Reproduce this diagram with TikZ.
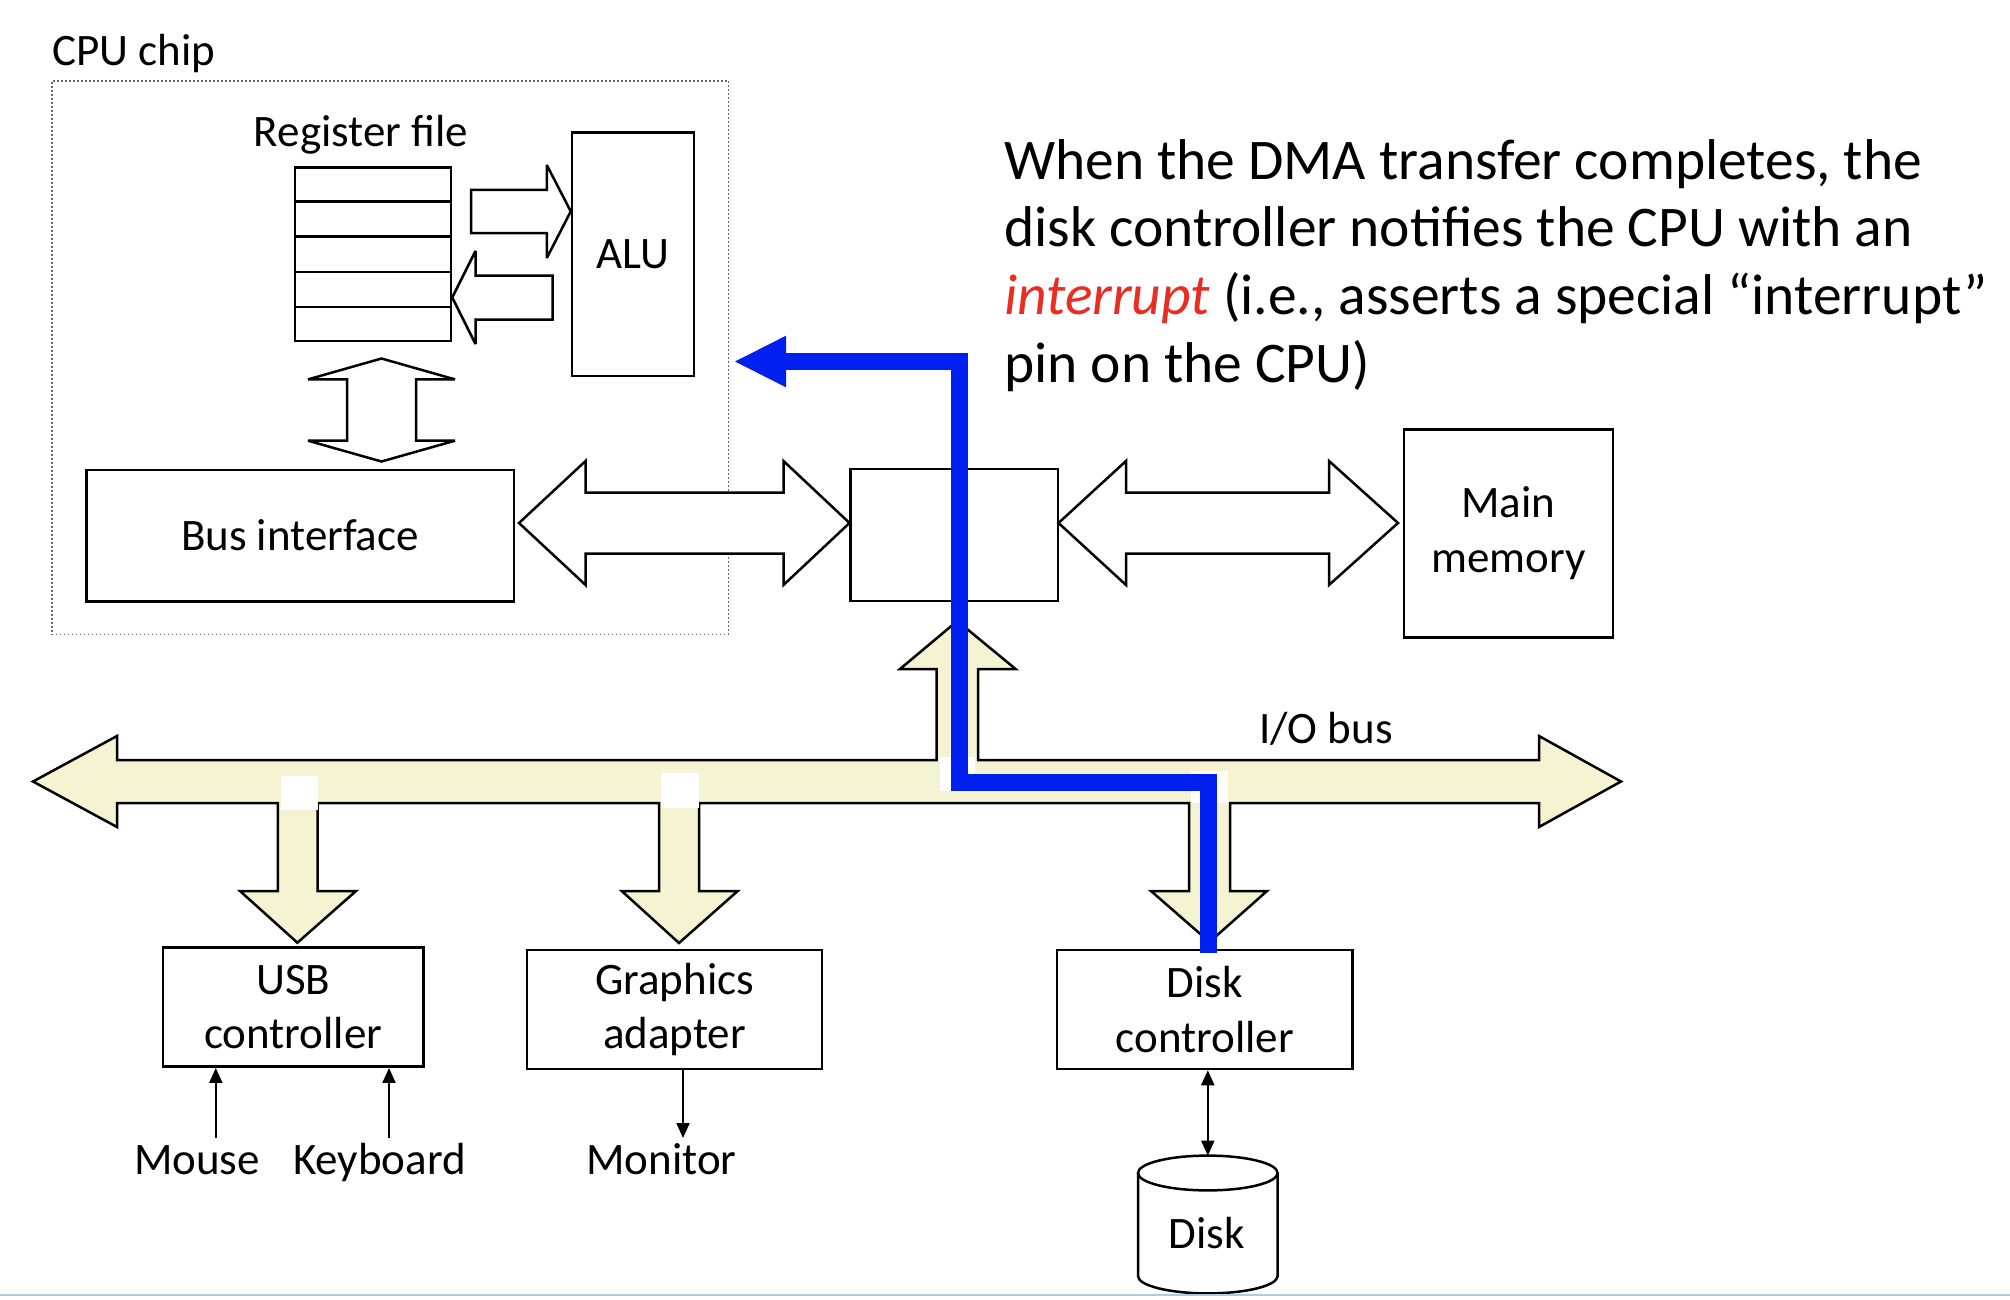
\documentclass[tikz,border=0pt]{standalone}
\usepackage{fontspec}
\setmainfont{Carlito}
\usetikzlibrary{arrows.meta,calc}
\definecolor{busfill}{RGB}{246,243,210}
\definecolor{dmablue}{RGB}{0,32,240}
\definecolor{intred}{RGB}{233,45,35}
\definecolor{rulecol}{RGB}{180,199,220}
\newcommand\lblfont{\fontsize{45}{55}\selectfont}
\newcommand\parfont{\fontsize{57.5}{68}\selectfont}
\begin{document}
\begin{tikzpicture}[x=1pt,y=-1pt,line join=miter,miter limit=4,
  box/.style={draw, line width=2.5pt, inner sep=0pt, align=center, font=\lblfont},
  lbl/.style={inner sep=0pt, font=\lblfont},
  ptext/.style={inner sep=0pt, font=\parfont, anchor=base west},
  blockarrow/.style={draw, line width=2.5pt, fill=white},
  thinarr/.style={line width=2pt, -{Triangle[length=15pt,width=13pt]}},
  dblarr/.style={line width=2pt, {Triangle[length=15pt,width=13pt]}-{Triangle[length=15pt,width=13pt]}}]
\useasboundingbox (0,0) rectangle (2010,1300);
\fill[white] (0,0) rectangle (2010,1300);

% CPU chip
\node[draw=black!60, line width=1.5pt, dash pattern=on 1.5pt off 2.5pt, minimum width=676.6pt, minimum height=553.5pt, inner sep=0pt] (cpu) at (390.2,357.55) {};
\node[lbl, anchor=base west] (cpulbl) at (51.9,65.5) {CPU chip};

% Register file and ALU
\node[lbl, anchor=base] (reglbl) at (361,147) {Register file};
\node[box, minimum width=156pt, minimum height=173.5pt] (reg) at (373,254.3) {};
\foreach \k in {1,...,4}
  \draw[line width=2.5pt] ($(reg.north west)!\k/5!(reg.south west)$) -- ($(reg.north east)!\k/5!(reg.south east)$);
\node[box, minimum width=122pt, minimum height=243.3pt] (alu) at (633,254.4) {ALU};

% reg -> ALU
\draw[blockarrow] (471,190) -- (546.8,190) -- (546.8,165) -- (alu.west |- 0,211.4) -- (546.8,258) -- (546.8,233) -- (471,233) -- cycle;
% ALU -> reg
\draw[blockarrow] (552.6,275.7) -- (475.5,275.7) -- (475.5,251) -- (reg.east |- 0,297.5) -- (475.5,344) -- (475.5,319.7) -- (552.6,319.7) -- cycle;

% Bus interface
\node[box, minimum width=427.5pt, minimum height=131.5pt] (bi) at (300,535.5) {Bus interface};
% reg <-> bus interface
\draw[blockarrow] (381.5,358.5) -- (455,379.4) -- (416,379.4) -- (416,440.7) -- (455,440.7) -- (381.5,461.5) -- (308,440.7) -- (347,440.7) -- (347,379.4) -- (308,379.4) -- cycle;

% Bridge and main memory
\node[box, minimum width=207.6pt, minimum height=132pt] (bridge) at (954.2,535) {};
\node[box, minimum width=209pt, minimum height=208.3pt] (mem) at (1508.5,533.5) {Main\\memory};

% bus interface <-> bridge
\draw[blockarrow] (519,523) -- (585.6,461) -- (585.6,492.5) -- (783.5,492.5) -- (783.5,461) -- (849.5,523) -- (783.5,585) -- (783.5,553.5) -- (585.6,553.5) -- (585.6,585) -- cycle;
% bridge <-> memory
\draw[blockarrow] (1058.5,523) -- (1126,461) -- (1126,492.5) -- (1329,492.5) -- (1329,461) -- (1398,523) -- (1329,585) -- (1329,553.5) -- (1126,553.5) -- (1126,585) -- cycle;

% I/O bus with branches
\draw[line width=2.5pt, fill=busfill]
  (33,781.5) -- (117,736) -- (117,760) -- (936.7,760) -- (936.7,669) -- (900,669) -- (957.3,621)
  -- (1015.6,669) -- (978,669) -- (978,760) -- (1539,760) -- (1539,736) -- (1621,781.5)
  -- (1539,827) -- (1539,803) -- (1230,803) -- (1230,891) -- (1267,891) -- (1209.5,942)
  -- (1151,891) -- (1189,891) -- (1189,803) -- (699,803) -- (699,891) -- (737.7,891)
  -- (679,943) -- (621.7,891) -- (659,891) -- (659,803) -- (317.5,803) -- (317.5,891)
  -- (356,891) -- (297.4,942.7) -- (240,891) -- (277.8,891) -- (277.8,803) -- (117,803)
  -- (117,827) -- cycle;
\node[lbl, anchor=base west] (iobus) at (1259,743) {I/O bus};

% white patches
\fill[white] (280.5,775.5) rectangle (317.5,810);
\fill[white] (661,773) rectangle (699,808);
\fill[white] (940,757) rectangle (975,791);
\fill[white] (1191,771) rectangle (1228,803);

% Device controllers
\node[box, minimum width=260.6pt, minimum height=119.2pt] (usb) at (293.3,1007.1) {\raisebox{-3pt}{USB}\\[-1pt]\raisebox{-3pt}{controller}};
\node[box, minimum width=295pt, minimum height=119pt] (gfx) at (674.5,1009.5) {\raisebox{-3pt}{Graphics}\\[-1pt]\raisebox{-3pt}{adapter}};
\node[box, minimum width=295.6pt, minimum height=119pt] (dc) at (1204.8,1009.5) {Disk\\controller};

% Peripherals
\node[lbl, anchor=base] (mouse) at (197,1174) {Mouse};
\node[lbl, anchor=base] (kbd) at (379.5,1174) {Keyboard};
\node[lbl, anchor=base] (mon) at (661.6,1174) {Monitor};
\coordinate (mouseA) at (215.8,1138);
\coordinate (kbdA) at (389,1138);
\coordinate (monA) at (683,1138);
\draw[thinarr] (mouseA) -- (mouseA |- usb.south);
\draw[thinarr] (kbdA) -- (kbdA |- usb.south);
\draw[thinarr] (monA |- gfx.south) -- (monA);

% Disk
\draw[line width=2.5pt, fill=white] (1138,1173) -- (1138,1276) arc[start angle=180, end angle=360, x radius=69.8pt, y radius=17.4pt] -- (1277.6,1173);
\draw[line width=2.5pt] (1207.8,1173) ellipse [x radius=69.8pt, y radius=17.4pt];
\coordinate (disktop) at (1207.8,1155.6);
\node[lbl, anchor=base] (disk) at (1207,1248) {Disk};
\draw[dblarr] (disktop |- dc.south) -- (disktop);

% DMA interrupt path
\coordinate (b0) at (1208,953);
\coordinate (b1) at (1208,782);
\coordinate (b2) at (959.4,782);
\coordinate (b3) at (959.4,361.5);
\coordinate (b4) at (786,361.5);
\coordinate (btip) at (735,361.5);
\draw[dmablue, line width=17pt] (b0) -- (b1) -- (b2) -- (b3) -- (b4);
\fill[dmablue] (btip) -- (786,335.7) -- (786,387.3) -- cycle;

% Explanation text
\node[ptext] (t1) at (1004,179.6) {When the DMA transfer completes, the};
\node[ptext] (t2) at (1004,246.8) {disk controller notifies the CPU with an};
\node[ptext] (t3) at (1004,314.8) {{\color{intred}\itshape interrupt} (i.e., asserts a special “interrupt”};
\node[ptext] (t4) at (1004,382.2) {pin on the CPU)};

% bottom rule
\draw[rulecol, line width=2pt] (0,1295) -- (2010,1295);
\end{tikzpicture}
\end{document}
